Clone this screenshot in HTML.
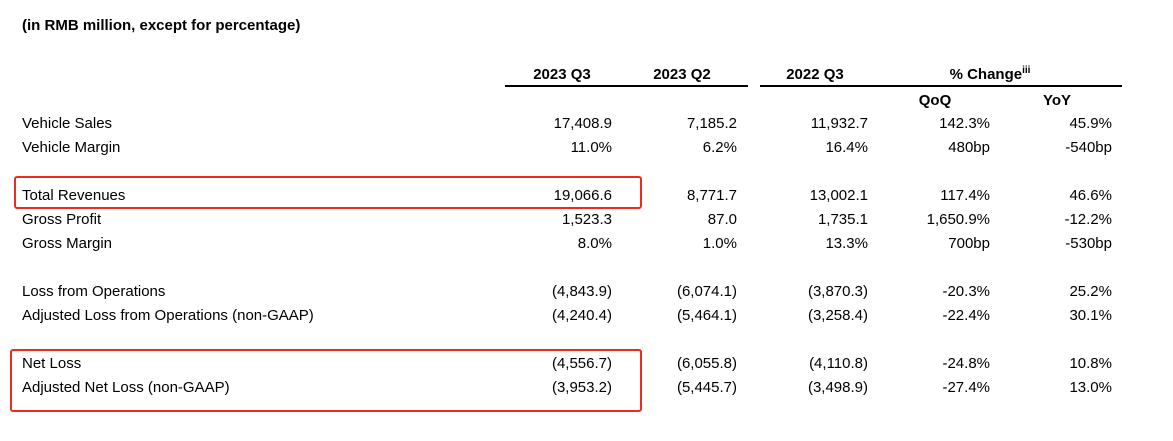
<!DOCTYPE html>
<html><head><meta charset="utf-8"><style>
body{margin:0;width:1173px;height:441px;background:#fff;font-family:"Liberation Sans",sans-serif;color:#000;position:relative;overflow:hidden}
.t{position:absolute;font-size:15px;white-space:nowrap;line-height:18px}
.r{text-align:right}
.c{text-align:center}
.b{font-weight:bold}
.ln{position:absolute;height:2px;background:#000}
.box{position:absolute;border:2px solid #ee2a24;border-radius:3px}
</style></head><body>
<div class="t b" style="left:22px;top:17px">(in RMB million, except for percentage)</div>
<div class="t b c" style="left:512px;width:100px;top:66px">2023 Q3</div>
<div class="t b c" style="left:632px;width:100px;top:66px">2023 Q2</div>
<div class="t b c" style="left:765px;width:100px;top:66px">2022 Q3</div>
<div class="t b c" style="left:920px;width:140px;top:66px">% Change<sup style="font-size:10px;line-height:0">iii</sup></div>
<div class="ln" style="left:505px;width:243px;top:85px"></div>
<div class="ln" style="left:760px;width:362px;top:85px"></div>
<div class="t b c" style="left:895px;width:80px;top:92px">QoQ</div>
<div class="t b c" style="left:1017px;width:80px;top:92px">YoY</div>
<div class="box" style="left:14px;top:176px;width:624px;height:29px"></div>
<div class="box" style="left:10px;top:349px;width:628px;height:59px"></div>
<div id="rows"></div>
<script>
const labels=["Vehicle Sales","Vehicle Margin","Total Revenues","Gross Profit","Gross Margin","Loss from Operations","Adjusted Loss from Operations (non-GAAP)","Net Loss","Adjusted Net Loss (non-GAAP)"];
const q3_2023=["17,408.9","11.0%","19,066.6","1,523.3","8.0%","(4,843.9)","(4,240.4)","(4,556.7)","(3,953.2)"];
const q2_2023=["7,185.2","6.2%","8,771.7","87.0","1.0%","(6,074.1)","(5,464.1)","(6,055.8)","(5,445.7)"];
const q3_2022=["11,932.7","16.4%","13,002.1","1,735.1","13.3%","(3,870.3)","(3,258.4)","(4,110.8)","(3,498.9)"];
const qoq=["142.3%","480bp","117.4%","1,650.9%","700bp","-20.3%","-22.4%","-24.8%","-27.4%"];
const yoy=["45.9%","-540bp","46.6%","-12.2%","-530bp","25.2%","30.1%","10.8%","13.0%"];
const rowY=[115,139,187,211,235,283,307,355,379];
const cols=[[q3_2023,612],[q2_2023,737],[q3_2022,868],[qoq,990],[yoy,1112]];
const host=document.getElementById('rows');
labels.forEach((l,i)=>{
  const d=document.createElement('div');
  d.className='t';d.style.left='22px';d.style.top=rowY[i]+'px';d.textContent=l;
  
  
  host.appendChild(d);
  cols.forEach(([arr,right])=>{
    const v=document.createElement('div');
    v.className='t r';v.style.left=(right-150)+'px';v.style.width='150px';v.style.top=rowY[i]+'px';v.textContent=arr[i];
    
    
    host.appendChild(v);
  });
});
</script>
</body></html>
